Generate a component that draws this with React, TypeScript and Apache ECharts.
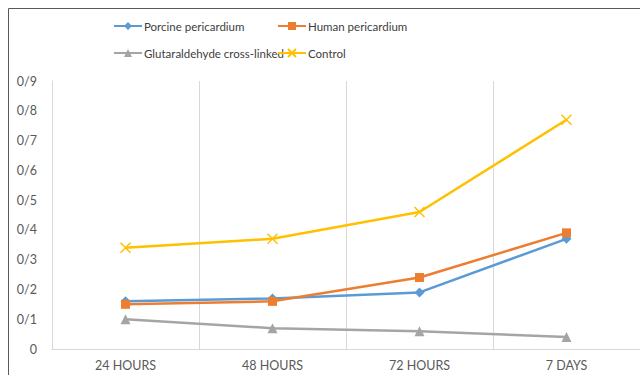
import React, { useEffect, useRef } from "react";
import * as echarts from "echarts";

const categories = ["24 HOURS", "48 HOURS", "72 HOURS", "7 DAYS"];
const porcine = [0.16, 0.17, 0.19, 0.37];
const human = [0.15, 0.16, 0.24, 0.39];
const glutaraldehyde = [0.10, 0.07, 0.06, 0.04];
const control = [0.34, 0.37, 0.46, 0.77];

const names = ["Porcine pericardium", "Human pericardium", "Glutaraldehyde cross-linked", "Control"];

export default function App() {
  const ref = useRef<HTMLDivElement>(null);
  useEffect(() => {
    if (!ref.current) return;
    const chart = echarts.init(ref.current, null, { renderer: "svg" });
    const font = "Lato, 'Open Sans', sans-serif";
    const legendBase = {
      itemWidth: 28,
      itemHeight: 10,
      itemGap: 4,
      textStyle: { fontFamily: font, fontSize: 11.5, color: "#404040", padding: [0, 0, 0, -3] },
    };
    chart.setOption({
      animation: false,
      backgroundColor: "#ffffff",
      graphic: [
        {
          type: "rect",
          shape: { x: 8.5, y: 8.5, width: 700, height: 400 },
          style: { fill: "none", stroke: "#595959", lineWidth: 1 },
          silent: true,
        },
      ],
      legend: [
        { ...legendBase, data: [names[0]], left: 108, top: 15 },
        { ...legendBase, data: [names[1]], left: 272, top: 15 },
        { ...legendBase, data: [names[2]], left: 108, top: 42 },
        { ...legendBase, data: [names[3]], left: 272, top: 42 },
      ],
      grid: { left: 52, top: 81, width: 592, height: 268, containLabel: false },
      xAxis: {
        type: "category",
        data: categories,
        boundaryGap: true,
        axisLine: { show: true, lineStyle: { color: "#d9d9d9", width: 1 } },
        axisTick: { show: false },
        splitLine: { show: true, lineStyle: { color: "#d9d9d9", width: 1 } },
        axisLabel: { fontFamily: font, fontSize: 12.5, color: "#595959", margin: 10 },
      },
      yAxis: {
        type: "value",
        min: 0,
        max: 0.9,
        interval: 0.1,
        axisLine: { show: true, lineStyle: { color: "#d9d9d9", width: 1 } },
        axisTick: { show: false },
        splitLine: { show: false },
        axisLabel: {
          fontFamily: font,
          fontSize: 12.5,
          color: "#595959",
          margin: 15,
          formatter: (v: number) => (v === 0 ? "0" : v.toFixed(1).replace(".", "/")),
        },
      },
      series: [
        {
          name: names[0],
          type: "line",
          data: porcine,
          symbol: "diamond",
          symbolSize: 10,
          lineStyle: { color: "#5B9BD5", width: 2.5 },
          itemStyle: { color: "#5B9BD5" },
          z: 3,
        },
        {
          name: names[1],
          type: "line",
          data: human,
          symbol: "rect",
          symbolSize: 9,
          lineStyle: { color: "#ED7D31", width: 2.5 },
          itemStyle: { color: "#ED7D31" },
          z: 4,
        },
        {
          name: names[2],
          type: "line",
          data: glutaraldehyde,
          symbol: "triangle",
          symbolSize: 10,
          lineStyle: { color: "#A5A5A5", width: 2.5 },
          itemStyle: { color: "#A5A5A5" },
          z: 2,
        },
        {
          name: names[3],
          type: "line",
          data: control,
          symbol: "path://M0,0L10,10M10,0L0,10",
          symbolSize: 10,
          lineStyle: { color: "#FFC000", width: 2.5 },
          itemStyle: { color: "#FFC000", borderColor: "#FFC000", borderWidth: 1.5 },
          z: 5,
        },
      ],
    });
    return () => chart.dispose();
  }, []);
  return (
    <div
      ref={ref}
      style={{ position: "fixed", left: 0, top: 0, width: 640, height: 375 }}
    />
  );
}
